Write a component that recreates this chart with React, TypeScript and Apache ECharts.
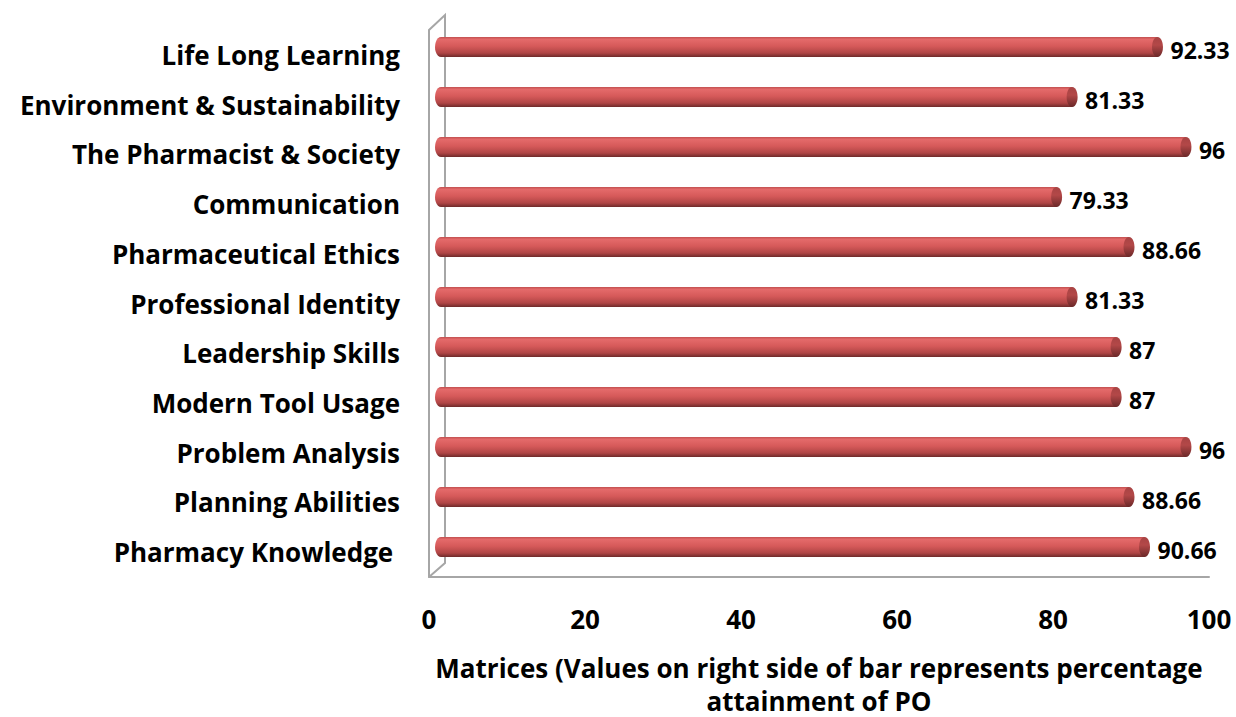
import React, { useEffect, useRef } from "react";
import * as echarts from "echarts";

const categories = [
  "Life Long Learning",
  "Environment & Sustainability",
  "The Pharmacist & Society",
  "Communication",
  "Pharmaceutical Ethics",
  "Professional Identity",
  "Leadership Skills",
  "Modern Tool Usage",
  "Problem Analysis",
  "Planning Abilities",
  "Pharmacy Knowledge ",
];
const values = [92.33, 81.33, 96, 79.33, 88.66, 81.33, 87, 87, 96, 88.66, 90.66];
const valueLabels = ["92.33", "81.33", "96", "79.33", "88.66", "81.33", "87", "87", "96", "88.66", "90.66"];
const xTicks = [0, 20, 40, 60, 80, 100];
const axisTitle = "Matrices (Values on right side of bar represents percentage\nattainment of PO";

const FONT = "Open Sans";
const GRAY = "#A6A6A6";

export default function App() {
  const ref = useRef<HTMLDivElement>(null);
  useEffect(() => {
    if (!ref.current) return;
    const chart = echarts.init(ref.current, null, { renderer: "svg" });
    const barGrad = new echarts.graphic.LinearGradient(0, 0, 0, 1, [
      { offset: 0, color: "#C25050" },
      { offset: 0.12, color: "#E46A6A" },
      { offset: 0.45, color: "#D65A5A" },
      { offset: 0.8, color: "#B04545" },
      { offset: 1, color: "#6E2A2A" },
    ]);
    const capGrad = new echarts.graphic.LinearGradient(0, 0, 0, 1, [
      { offset: 0, color: "#A84444" },
      { offset: 0.4, color: "#B34848" },
      { offset: 1, color: "#6A2828" },
    ]);
    const leftGrad = new echarts.graphic.LinearGradient(0, 0, 0, 1, [
      { offset: 0, color: "#C25050" },
      { offset: 0.12, color: "#E46A6A" },
      { offset: 0.45, color: "#D65A5A" },
      { offset: 0.8, color: "#B04545" },
      { offset: 1, color: "#6E2A2A" },
    ]);
    chart.setOption({
      animation: false,
      backgroundColor: "#FFFFFF",
      textStyle: { fontFamily: FONT },
      grid: [
        { left: 441, right: 19, top: 22, height: 550, outerBoundsMode: "none", containLabel: false },
        { left: 429, right: 27, top: 30, height: 547, outerBoundsMode: "none", containLabel: false },
      ],
      xAxis: [
        {
          gridIndex: 0,
          type: "value",
          min: 0,
          max: 100,
          interval: 20,
          show: false,
        },
        {
          gridIndex: 1,
          type: "value",
          min: 0,
          max: 100,
          interval: 20,
          axisLine: { show: true, lineStyle: { color: GRAY, width: 2 } },
          axisTick: { show: false },
          splitLine: { show: false },
          axisLabel: {
            margin: 29,
            fontFamily: FONT,
            fontWeight: "bold",
            fontSize: 26,
            color: "#000",
            formatter: (v: number) => (xTicks.includes(v) ? String(v) : ""),
          },
          name: axisTitle,
          nameLocation: "middle",
          nameGap: 74,
          nameTextStyle: {
            fontFamily: FONT,
            fontWeight: "bold",
            fontSize: 26,
            lineHeight: 33,
            color: "#000",
            verticalAlign: "top",
          },
        },
      ],
      yAxis: [
        {
          gridIndex: 0,
          type: "category",
          data: categories,
          inverse: true,
          show: false,
        },
        {
          gridIndex: 1,
          type: "category",
          data: categories,
          inverse: true,
          axisLine: { show: true, lineStyle: { color: GRAY, width: 2 } },
          axisTick: { show: false },
          axisLabel: {
            margin: 29,
            fontFamily: FONT,
            fontWeight: "bold",
            fontSize: 26,
            color: "#000",
          },
        },
      ],
      series: [
        {
          type: "bar",
          xAxisIndex: 0,
          yAxisIndex: 0,
          data: values,
          barWidth: 20,
          itemStyle: { color: barGrad },
          label: {
            show: true,
            position: "right",
            distance: 13,
            offset: [0, 3],
            fontFamily: FONT,
            fontWeight: "bold",
            fontSize: 23,
            color: "#000",
            formatter: (p: any) => valueLabels[p.dataIndex],
          },
          z: 2,
        },
        {
          type: "scatter",
          xAxisIndex: 0,
          yAxisIndex: 0,
          data: values.map((v, i) => [v, categories[i]]),
          symbol: "circle",
          symbolSize: [11, 20],
          itemStyle: { color: capGrad, opacity: 1 },
          z: 3,
          silent: true,
        },
        {
          type: "scatter",
          xAxisIndex: 0,
          yAxisIndex: 0,
          data: values.map((_v, i) => [0, categories[i]]),
          symbol: "circle",
          symbolSize: [12, 20],
          itemStyle: { color: leftGrad, opacity: 1 },
          z: 1,
          silent: true,
        },
      ],
      graphic: [
        {
          type: "polyline",
          shape: { points: [[429, 30], [445, 15], [445, 563], [429, 577]] },
          style: { stroke: GRAY, lineWidth: 2, fill: "none" },
          z: 0,
        },
      ],
    });
    return () => chart.dispose();
  }, []);
  return (
    <div
      ref={ref}
      style={{ position: "fixed", left: 0, top: 0, width: 1236, height: 717 }}
    />
  );
}
